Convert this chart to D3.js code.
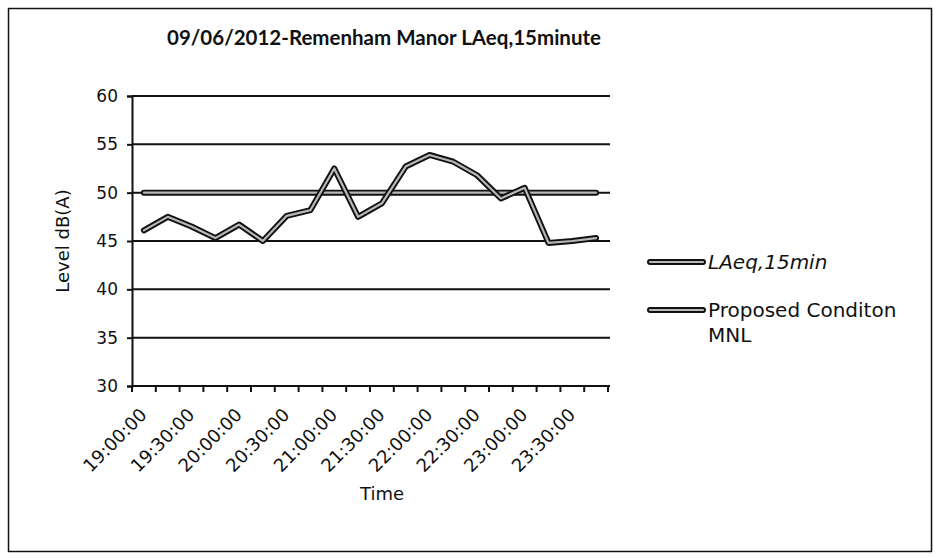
<!DOCTYPE html>
<html><head><meta charset="utf-8">
<script src="https://cdn.jsdelivr.net/npm/d3@7"></script>
<style>html,body{margin:0;padding:0;background:#fff;}svg{display:block;}</style>
</head><body>
<script>
const categories = ["19:00:00","19:15:00","19:30:00","19:45:00","20:00:00","20:15:00","20:30:00","20:45:00","21:00:00","21:15:00","21:30:00","21:45:00","22:00:00","22:15:00","22:30:00","22:45:00","23:00:00","23:15:00","23:30:00","23:45:00"];
const laeq = [46.1,47.5,46.5,45.3,46.7,45.0,47.6,48.2,52.5,47.5,48.9,52.7,53.9,53.2,51.8,49.4,50.5,44.8,45.0,45.3];
const mnl = [50,50,50,50,50,50,50,50,50,50,50,50,50,50,50,50,50,50,50,50];
const yTicks = [30,35,40,45,50,55,60];
const tickLabels = ["19:00:00","19:30:00","20:00:00","20:30:00","21:00:00","21:30:00","22:00:00","22:30:00","23:00:00","23:30:00"];
const seriesNames = ["LAeq,15min","Proposed Conditon MNL"];
const title = "09/06/2012-Remenham Manor LAeq,15minute";

const W=938,H=558;
const svg=d3.select("body").append("svg").attr("width",W).attr("height",H);
const font="'DejaVu Sans', Verdana, sans-serif";
const tfont="Lato, 'Open Sans', sans-serif";

// outer frame
svg.append("rect").attr("x",8.5).attr("y",8.5).attr("width",923).attr("height",543)
  .attr("fill","#fff").attr("stroke","#111").attr("stroke-width",1.5);

const L=132,R=608,T=96,B=386;
const x=d3.scaleBand().domain(categories).range([L,R]).paddingInner(0).paddingOuter(0);
const y=d3.scaleLinear().domain([30,60]).range([B,T]);

// gridlines
svg.append("g").selectAll("line").data(yTicks).join("line")
  .attr("x1",L).attr("x2",R+2).attr("y1",d=>y(d)).attr("y2",d=>y(d))
  .attr("stroke","#111").attr("stroke-width",2);

// y axis
const ya=svg.append("g").attr("transform",`translate(${L},0)`)
  .call(d3.axisLeft(y).tickValues(yTicks).tickSize(5).tickPadding(9));
ya.select(".domain").attr("stroke","#111").attr("stroke-width",2);
ya.selectAll(".tick line").attr("stroke","#111").attr("stroke-width",2);
ya.selectAll("text").attr("font-family",font).attr("font-size",17).attr("fill","#111");

// x axis: ticks at category boundaries
const bounds=categories.map(c=>x(c)).concat([R]);
svg.append("g").selectAll("line").data(bounds).join("line")
  .attr("x1",d=>d).attr("x2",d=>d).attr("y1",B).attr("y2",B+6)
  .attr("stroke","#111").attr("stroke-width",2);
svg.append("line").attr("x1",L).attr("x2",R).attr("y1",B).attr("y2",B).attr("stroke","#111").attr("stroke-width",2);

svg.append("g").selectAll("text").data(tickLabels).join("text")
  .attr("transform",d=>`translate(${x(d)+x.bandwidth()/2+4},${B+30}) rotate(-45)`)
  .attr("text-anchor","end").attr("font-family",font).attr("font-size",18).attr("fill","#111")
  .text(d=>d);

// axis titles
svg.append("text").attr("transform",`translate(69,${(T+B)/2}) rotate(-90)`)
  .attr("text-anchor","middle").attr("font-family",font).attr("font-size",18).attr("fill","#111")
  .text("Level dB(A)");
svg.append("text").attr("x",382).attr("y",500).attr("text-anchor","middle")
  .attr("font-family",font).attr("font-size",18).attr("fill","#111").text("Time");

// title
svg.append("text").attr("x",384).attr("y",45).attr("text-anchor","middle")
  .attr("font-family",tfont).attr("font-weight","bold").attr("font-size",20.5).attr("fill","#111")
  .text(title);

// series lines (scanned look: dark outline with light core)
const line=d3.line().x((d,i)=>x(categories[i])+x.bandwidth()/2).y(d=>y(d));
function drawSeries(vals){
  svg.append("path").datum(vals).attr("d",line).attr("fill","none")
    .attr("stroke","#111").attr("stroke-width",6).attr("stroke-linejoin","round").attr("stroke-linecap","round");
  svg.append("path").datum(vals).attr("d",line).attr("fill","none")
    .attr("stroke","#b8b8b8").attr("stroke-width",2.2).attr("stroke-linejoin","round").attr("stroke-linecap","round");
}
drawSeries(mnl);
drawSeries(laeq);

// legend
const lg=svg.append("g");
const legY=[262,310];
legY.forEach((ly,i)=>{
  lg.append("line").attr("x1",650).attr("x2",703).attr("y1",ly).attr("y2",ly)
    .attr("stroke","#111").attr("stroke-width",6).attr("stroke-linecap","round");
  lg.append("line").attr("x1",650).attr("x2",703).attr("y1",ly).attr("y2",ly)
    .attr("stroke","#b8b8b8").attr("stroke-width",2.2).attr("stroke-linecap","round");
});
lg.append("text").attr("x",708).attr("y",269).attr("font-family",font).attr("font-size",20)
  .attr("font-style","italic").attr("fill","#111").text(seriesNames[0]);
const t2=lg.append("text").attr("x",708).attr("y",317).attr("font-family",font).attr("font-size",20).attr("fill","#111");
t2.append("tspan").attr("x",708).text("Proposed Conditon");
t2.append("tspan").attr("x",708).attr("dy",25).text("MNL");
</script>
</body></html>
